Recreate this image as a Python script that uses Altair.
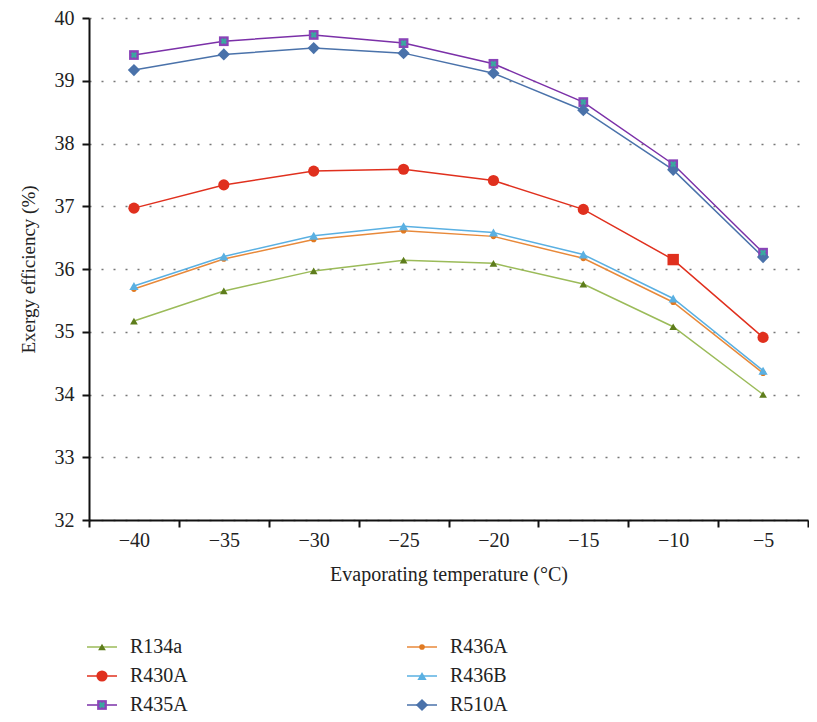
import altair as alt
import pandas as pd

temps = [-40, -35, -30, -25, -20, -15, -10, -5]
temp_labels = ["−40", "−35", "−30", "−25", "−20", "−15", "−10", "−5"]
series = ["R134a", "R430A", "R435A", "R436A", "R436B", "R510A"]
r134a = [35.17, 35.65, 35.97, 36.14, 36.09, 35.76, 35.08, 34.00]
r430a = [36.97, 37.34, 37.56, 37.59, 37.41, 36.95, 36.15, 34.91]
r435a = [39.41, 39.63, 39.73, 39.60, 39.27, 38.66, 37.67, 36.26]
r436a = [35.68, 36.16, 36.47, 36.61, 36.52, 36.17, 35.47, 34.34]
r436b = [35.73, 36.20, 36.53, 36.68, 36.58, 36.23, 35.53, 34.38]
r510a = [39.17, 39.42, 39.52, 39.44, 39.12, 38.53, 37.58, 36.19]
values = [r134a, r430a, r435a, r436a, r436b, r510a]

line_colors = ["#9bbb59", "#e0301e", "#7b30a8", "#e8893a", "#5ab0e2", "#4a72aa"]
marker_fills = ["#5e7d1c", "#e0301e", "#8a44b8", "#e07a22", "#5ab0e2", "#4a72aa"]
marker_shapes = ["triangle-up", "circle", "square", "circle", "triangle-up", "diamond"]
marker_sizes = [60, 125, 95, 32, 85, 150]
legend_col = [0, 0, 0, 1, 1, 1]
legend_row = [0, 1, 2, 0, 1, 2]

FONT = "Liberation Serif"

rows = []
for s, vals, fill, shp, sz in zip(series, values, marker_fills, marker_shapes, marker_sizes):
    for t, lab, v in zip(temps, temp_labels, vals):
        this_shape, this_size = shp, sz
        if s == "R430A" and t == -10:
            this_shape, this_size = "square", 130
        rows.append({"temp": lab, "series": s, "value": v,
                     "shape": this_shape, "fill": fill, "size": this_size})
df = pd.DataFrame(rows)

color_scale = alt.Scale(domain=series, range=line_colors)
x_enc = alt.X("temp:O", sort=temp_labels,
              axis=alt.Axis(title="Evaporating temperature (°C)", labelAngle=0,
                            tickBand="extent", grid=False, tickSize=7,
                            labelPadding=3, titlePadding=14, titleFontSize=20))
y_enc = alt.Y("value:Q", scale=alt.Scale(domain=[32, 40], nice=False, zero=False),
              axis=alt.Axis(title="Exergy efficiency (%)", values=list(range(32, 41)),
                            tickSize=7, labelPadding=8, titlePadding=16,
                            grid=True, gridDash=[2, 10], gridColor="#777",
                            gridWidth=1.5, titleFontSize=19))

lines = alt.Chart(df).mark_line(strokeWidth=1.5).encode(
    x=x_enc, y=y_enc,
    color=alt.Color("series:N", scale=color_scale, legend=None),
    detail="series:N",
)
points = alt.Chart(df).mark_point(filled=True, opacity=1).encode(
    x=x_enc, y=y_enc,
    shape=alt.Shape("shape:N", scale=None),
    fill=alt.Fill("fill:N", scale=None),
    size=alt.Size("size:Q", scale=None),
)
crosses = alt.Chart(df).transform_filter(alt.datum.series == "R435A").mark_point(
    shape="cross", angle=45, filled=True, color="#3aa8a0", size=40, opacity=1
).encode(x=x_enc, y=y_enc)

main = alt.layer(lines, points, crosses).properties(width=719, height=502)

# legend panel
leg = pd.DataFrame({"series": series, "col": legend_col, "row": legend_row,
                    "fill": marker_fills, "shape": marker_shapes, "size": marker_sizes,
                    "lcolor": line_colors})
lx = alt.X("col:Q", scale=alt.Scale(domain=[0, 1], range=[13, 333]), axis=None)
ly = alt.Y("row:Q", scale=alt.Scale(domain=[0, 2], range=[8, 66]), axis=None)
leg_line = alt.Chart(leg).mark_point(shape="stroke", size=900, strokeWidth=1.5, opacity=1).encode(
    x=lx, y=ly, stroke=alt.Stroke("lcolor:N", scale=None))
leg_pt = alt.Chart(leg).mark_point(filled=True, opacity=1).encode(
    x=lx, y=ly,
    shape=alt.Shape("shape:N", scale=None),
    fill=alt.Fill("fill:N", scale=None),
    size=alt.Size("size:Q", scale=None))
leg_cross = alt.Chart(leg).transform_filter(alt.datum.series == "R435A").mark_point(
    shape="cross", angle=45, filled=True, color="#3aa8a0", size=40, opacity=1
).encode(x=lx, y=ly)
leg_txt = alt.Chart(leg).mark_text(align="left", baseline="middle", dx=28, font=FONT,
                                   fontSize=20, color="#222").encode(
    x=lx, y=ly, text="series:N")
legend = alt.layer(leg_line, leg_pt, leg_cross, leg_txt).properties(width=719, height=66)

chart = alt.vconcat(main, legend, spacing=53).properties(
    padding={"left": 11, "top": 0, "right": 0, "bottom": 0}
).configure_view(stroke=None).configure_axis(
    labelFont=FONT, titleFont=FONT, labelFontSize=20, titleFontSize=19,
    labelColor="#222", titleColor="#222", titleFontWeight="normal",
    domainColor="#111", domainWidth=2, tickColor="#111", tickWidth=2,
)

chart.save("out.html", embed_options={"renderer": "svg", "actions": False})
